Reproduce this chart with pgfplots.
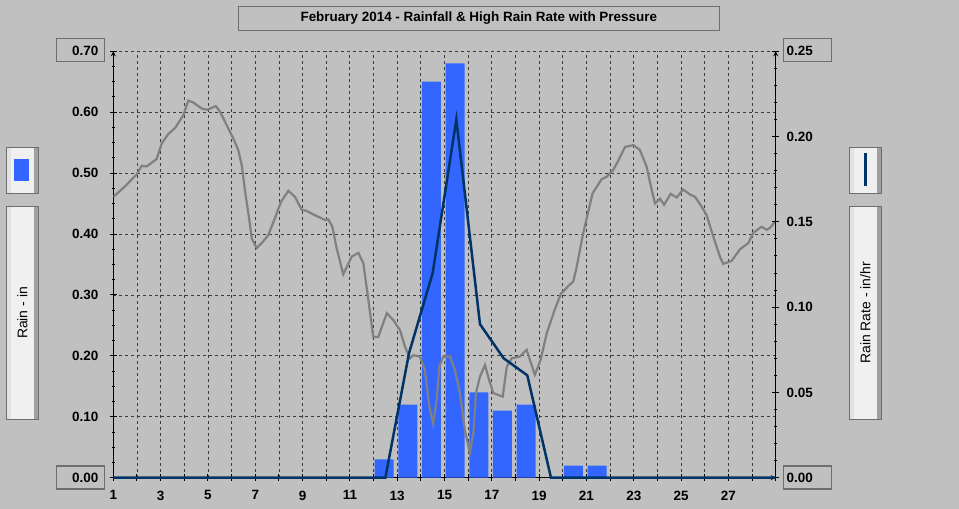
\documentclass[border=0pt]{standalone}
\usepackage{fontspec}
\setmainfont{Liberation Sans}
\usepackage{pgfplots}
\pgfplotsset{compat=1.18}
\definecolor{bgc}{RGB}{192,192,192}
\definecolor{rainbar}{RGB}{51,102,255}
\definecolor{rateline}{RGB}{0,51,102}
\definecolor{pressline}{RGB}{128,128,128}
\definecolor{gridc}{RGB}{60,60,60}
\definecolor{boxc}{RGB}{110,110,110}
\definecolor{panel}{RGB}{240,240,240}
\definecolor{panelsh}{RGB}{160,160,160}
\definecolor{panellt}{RGB}{226,226,226}

\pgfplotsset{
  wdaxis/.style={
    scale only axis, width=662.4bp, height=426.4bp,
    at={(113.3bp,31.3bp)}, anchor=south west,
    xmin=1, xmax=29, ymin=0,
    axis line style={-, black, line width=1.2bp},
    tick align=outside, major tick length=7bp, minor tick length=3.5bp,
    tick style={black, line width=1bp},
    ticklabel style={font=\fontsize{13.5}{15}\selectfont\bfseries},
    /pgf/number format/assume math mode=true,
    /pgf/number format/fixed,
    /pgf/number format/fixed zerofill,
    /pgf/number format/precision=2,
  }
}

\begin{document}
\begin{tikzpicture}[x=1bp,y=1bp]
\fill[bgc] (0,0) rectangle (959,509);

% rain per day + pressure trace (left scale)
\begin{axis}[wdaxis,
  ymax=0.7,
  axis x line=bottom, axis y line=left,
  xtick={1,...,29},
  xticklabels={1,,3,,5,,7,,9,,11,,13,,15,,17,,19,,21,,23,,25,,27,,},
  xticklabel style={yshift=-6bp},
  yticklabel style={xshift=-8bp},
  ytick={0,0.1,0.2,0.3,0.4,0.5,0.6,0.7}, minor y tick num=3,
  grid=major, major grid style={gridc, dash pattern=on 3bp off 3bp, line width=0.8bp},
]
\addplot[ybar, bar width=19bp, fill=rainbar, draw=none] coordinates {
  (12.45,0.03) (13.45,0.12) (14.45,0.65) (15.45,0.68) (16.45,0.14)
  (17.45,0.11) (18.45,0.12) (20.45,0.02) (21.45,0.02)
};
\addplot[pressline, line width=2.2bp] coordinates {
(1.00,0.461) (1.49,0.478) (1.99,0.498) (2.20,0.512) (2.41,0.511) (2.83,0.523)
(3.05,0.549) (3.32,0.564) (3.61,0.574) (3.96,0.595) (4.17,0.619) (4.38,0.616)
(4.74,0.606) (4.95,0.604) (5.09,0.606) (5.33,0.610) (5.51,0.601) (5.79,0.579)
(6.07,0.557) (6.28,0.538) (6.43,0.513) (6.57,0.470) (6.74,0.426) (6.85,0.393)
(7.06,0.377) (7.27,0.385) (7.55,0.398) (7.83,0.426) (8.09,0.453) (8.40,0.471)
(8.68,0.461) (8.96,0.440) (9.17,0.438) (9.52,0.431) (9.95,0.423) (10.09,0.424)
(10.26,0.412) (10.44,0.377) (10.72,0.334) (11.08,0.363) (11.36,0.369) (11.57,0.352)
(11.78,0.292) (11.99,0.231) (12.20,0.231) (12.56,0.270) (12.83,0.259) (13.12,0.242)
(13.33,0.215) (13.54,0.196) (13.68,0.201) (13.96,0.199) (14.17,0.177) (14.36,0.117)
(14.52,0.089) (14.67,0.128) (14.78,0.182) (14.95,0.199) (15.23,0.199) (15.44,0.177)
(15.65,0.139) (15.86,0.078) (16.07,0.041) (16.22,0.073) (16.33,0.139) (16.50,0.166)
(16.71,0.185) (16.89,0.160) (17.06,0.139) (17.46,0.133) (17.63,0.182) (17.84,0.196)
(18.19,0.199) (18.47,0.210) (18.82,0.169) (19.06,0.193) (19.32,0.237) (19.67,0.277)
(19.92,0.302) (20.27,0.316) (20.44,0.322) (20.56,0.341) (20.86,0.401) (21.26,0.467)
(21.64,0.490) (21.85,0.494) (22.13,0.505) (22.34,0.520) (22.63,0.543) (22.98,0.546)
(23.26,0.538) (23.54,0.511) (23.76,0.472) (23.90,0.450) (24.11,0.458) (24.28,0.448)
(24.56,0.466) (24.81,0.460) (25.09,0.473) (25.37,0.465) (25.59,0.461) (25.87,0.445)
(26.08,0.431) (26.36,0.396) (26.64,0.363) (26.78,0.351) (27.14,0.356) (27.49,0.375)
(27.84,0.385) (28.05,0.402) (28.40,0.412) (28.62,0.407) (28.75,0.410) (28.97,0.420)
};
\end{axis}

% high rain rate (right scale)
\begin{axis}[wdaxis,
  ymax=0.25, clip=false,
  axis x line=none, axis y line=right,
  yticklabel style={xshift=4bp},
  ytick={0,0.05,0.1,0.15,0.2,0.25}, minor y tick num=4,
]
\addplot[rateline, line width=2.5bp] coordinates {
  (1,0) (12.5,0) (13.5,0.073) (14.5,0.12) (15.5,0.21) (16.5,0.09)
  (17.5,0.07) (18.5,0.06) (19.5,0) (29,0)
};
\end{axis}

% boxed end labels
\begin{scope}[boxc, line width=1.2bp]
\draw (56.3,470.7) rectangle (104.3,447.7);
\draw (56.3,43) rectangle (104.3,20);
\draw (783.3,470.7) rectangle (831.7,447.7);
\draw (783.3,43) rectangle (831.7,20);
\end{scope}

% title
\draw[boxc, line width=1.2bp] (238.3,502.7) rectangle (719.3,478.7);
\node[font=\fontsize{13.5}{15}\selectfont\bfseries] at (478.8,490.7)
  {February 2014 - Rainfall \& High Rain Rate with Pressure};

% legend / axis title panels
\foreach \xa in {6.3,849.3}{
  \fill[panel] (\xa,361.7) rectangle ++(32.4,-46);
  \fill[panellt] (\xa+0.6,361.1) rectangle ++(4,-44.8);
  \fill[panelsh] (\xa+27.6,361.1) rectangle ++(4,-44.8);
  \draw[boxc, line width=1.2bp] (\xa,361.7) rectangle ++(32.4,-46);
  \fill[panel] (\xa,302.7) rectangle ++(32.4,-213);
  \fill[panellt] (\xa+0.6,302.1) rectangle ++(4,-211.8);
  \fill[panelsh] (\xa+27.6,302.1) rectangle ++(4,-211.8);
  \draw[boxc, line width=1.2bp] (\xa,302.7) rectangle ++(32.4,-213);
}
\fill[rainbar] (14,350) rectangle (29,328.3);
\draw[rateline, line width=3bp] (865.5,356) -- (865.5,323);
\node[rotate=90, font=\fontsize{14}{16}\selectfont] at (22.5,196) {Rain - in};
\node[rotate=90, font=\fontsize{14}{16}\selectfont] at (865.5,196) {Rain Rate - in/hr};
\end{tikzpicture}
\end{document}
